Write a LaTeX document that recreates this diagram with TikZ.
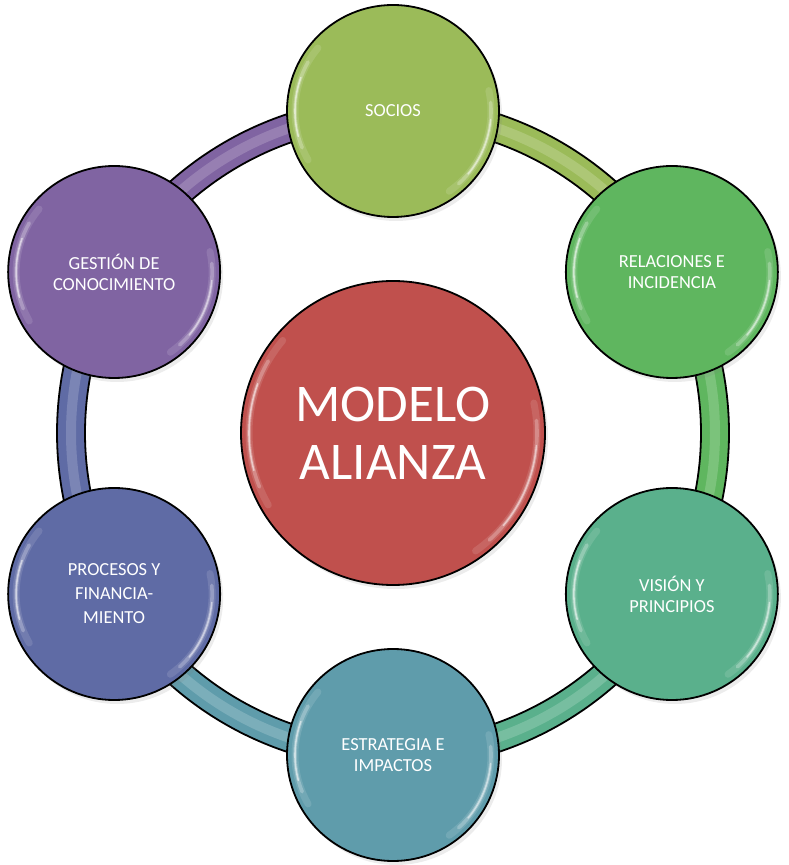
\documentclass[tikz,border=0pt]{standalone}
\usepackage{fontspec}
\setmainfont{Carlito}
\usetikzlibrary{shadows}

\definecolor{sociosgreen}{HTML}{9BBB59}
\definecolor{relgreen}{HTML}{5FB65F}
\definecolor{visiongreen}{HTML}{5AB08C}
\definecolor{estrteal}{HTML}{5F9CAB}
\definecolor{procblue}{HTML}{5F6BA5}
\definecolor{gestpurple}{HTML}{8064A2}
\definecolor{modelred}{HTML}{C0504D}

\tikzset{
  shine/.style={white, line cap=round},
  glossy/.style={path picture={
    \foreach \w/\o/\s/\e in {3.5/.12/140/210, 1.8/.25/150/202, .8/.55/160/195}
      \draw[shine, opacity=\o, line width=\w pt]
        (path picture bounding box.center) ++(\s:#1) arc[start angle=\s,end angle=\e,radius=#1];
    \foreach \w/\o/\s/\e in {3.5/.12/-55/12, 1.8/.25/-48/5, .8/.5/-40/-5}
      \draw[shine, opacity=\o, line width=\w pt]
        (path picture bounding box.center) ++(\s:#1) arc[start angle=\s,end angle=\e,radius=#1];
  }},
  bubble/.style={circle, draw=black, line width=0.9pt, minimum size=106pt,
    inner sep=0pt, text=white, align=center,
    font=\fontsize{9.2}{10.5}\selectfont, glossy=49pt,
    drop shadow={opacity=.15, shadow xshift=1.5pt, shadow yshift=-2pt}},
  hub/.style={bubble, minimum size=152pt, glossy=72pt,
    font=\fontsize{26.5}{29}\selectfont},
  tube/.style={line width=14pt, draw=#1},
  tubeshine/.style={line width=5pt, draw=#1!60!white, opacity=.45},
}

\begin{document}
\begin{tikzpicture}[x=0.5pt,y=0.5pt]
\useasboundingbox (-393,-432) rectangle (395,433);

% ring of tubes, one piece per gap, coloured like the bubble it leaves
\foreach \a/\col in {90/sociosgreen, 30/relgreen, -30/visiongreen,
                     -90/estrteal, -150/procblue, 150/gestpurple}{
  \draw[tube=\col] (\a:322) arc[start angle=\a, end angle=\a-60, radius=322];
  \draw[tubeshine=\col] (\a:322) arc[start angle=\a, end angle=\a-60, radius=322];
  \draw[line width=0.9pt] (\a:308) arc[start angle=\a, end angle=\a-60, radius=308];
  \draw[line width=0.9pt] (\a:336) arc[start angle=\a, end angle=\a-60, radius=336];
}

\node[hub, fill=modelred] (modelo) at (0,0) {MODELO\\ALIANZA};

\node[bubble, fill=sociosgreen] (socios) at (90:322) {SOCIOS};
\node[bubble, fill=relgreen] (relaciones) at (30:322) {RELACIONES E\\INCIDENCIA};
\node[bubble, fill=visiongreen] (vision) at (-30:322) {VISIÓN Y\\PRINCIPIOS};
\node[bubble, fill=estrteal] (estrategia) at (-90:322) {ESTRATEGIA E\\IMPACTOS};
\node[bubble, fill=procblue, font=\fontsize{9.2}{12}\selectfont] (procesos) at (-150:322) {PROCESOS Y\\FINANCIA-\\MIENTO};
\node[bubble, fill=gestpurple] (gestion) at (150:322) {GESTIÓN DE\\CONOCIMIENTO};

\end{tikzpicture}
\end{document}
